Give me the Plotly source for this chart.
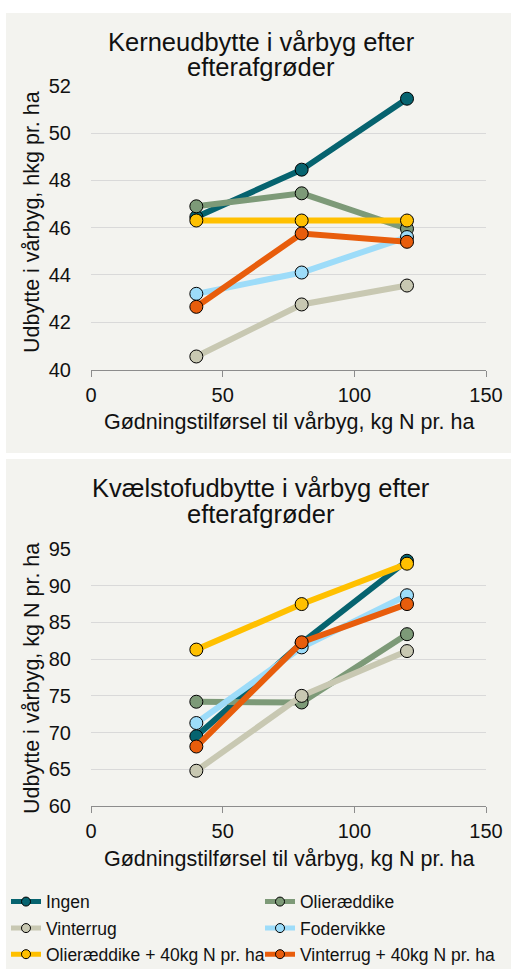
import plotly.graph_objects as go

# ---------------- data ----------------
n_levels = [40, 80, 120]
series_names = ["Ingen", "Olieræddike", "Vinterrug", "Fodervikke",
                "Olieræddike + 40kg N pr. ha", "Vinterrug + 40kg N pr. ha"]

kerne_ingen = [46.45, 48.45, 51.45]
kerne_olie = [46.9, 47.45, 45.95]
kerne_vinterrug = [40.55, 42.75, 43.55]
kerne_fodervikke = [43.2, 44.1, 45.6]
kerne_olie40 = [46.3, 46.3, 46.3]
kerne_vinterrug40 = [42.65, 45.75, 45.4]

kvael_ingen = [69.5, 82.2, 93.4]
kvael_olie = [74.2, 74.1, 83.4]
kvael_vinterrug = [64.8, 75.0, 81.1]
kvael_fodervikke = [71.3, 81.6, 88.7]
kvael_olie40 = [81.3, 87.5, 93.0]
kvael_vinterrug40 = [68.1, 82.3, 87.5]

x_ticks = [0, 50, 100, 150]
kerne_ticks = [40, 42, 44, 46, 48, 50, 52]
kvael_ticks = [60, 65, 70, 75, 80, 85, 90, 95]

title_top = ["Kerneudbytte i vårbyg efter", "efterafgrøder"]
title_bottom = ["Kvælstofudbytte i vårbyg efter", "efterafgrøder"]
ytitle_top = "Udbytte i vårbyg, hkg pr. ha"
ytitle_bottom = "Udbytte i vårbyg, kg N pr. ha"
xtitle = "Gødningstilførsel til vårbyg, kg N pr. ha"

colors = ["#06636F", "#7D9A78", "#C8C8B2", "#9DDCF9", "#FFC000", "#E85D0C"]

kerne = [kerne_ingen, kerne_olie, kerne_vinterrug, kerne_fodervikke, kerne_olie40, kerne_vinterrug40]
kvael = [kvael_ingen, kvael_olie, kvael_vinterrug, kvael_fodervikke, kvael_olie40, kvael_vinterrug40]

# ---------------- layout helpers ----------------
W, H = 511, 971
def px(x):
    return x / W
def py(y):
    return 1 - y / H

FONT = "Liberation Sans, Arial, sans-serif"
PANEL = "#F3F3EF"
GRID = "#D9D9D9"
AXIS = "#8C8C8C"
TXT = "#111111"

fig = go.Figure()

for i, name in enumerate(series_names):
    for ax, data in (("", kerne), ("2", kvael)):
        fig.add_trace(go.Scatter(
            x=n_levels, y=data[i], name=name, legendgroup=name, showlegend=False,
            mode="lines+markers", xaxis="x" + ax, yaxis="y" + ax,
            line=dict(color=colors[i], width=6),
            marker=dict(size=13, color=colors[i], line=dict(color="#000000", width=1)),
            hoverinfo="x+y+name",
        ))

# legend entries: 3 rows x 2 columns, one legend per entry
legend_ids = ["legend", "legend2", "legend3", "legend4", "legend5", "legend6"]
legend_pos = [(6, 901.7), (260, 901.7), (6, 928.2), (260, 928.2), (6, 954.3), (260, 954.3)]
for i, name in enumerate(series_names):
    fig.add_trace(go.Scatter(
        x=[None], y=[None], name=name, legendgroup=name, showlegend=True,
        legend=legend_ids[i], mode="lines+markers", xaxis="x", yaxis="y",
        line=dict(color=colors[i], width=5),
        marker=dict(size=9, color=colors[i], line=dict(color="#000000", width=1)),
        hoverinfo="skip",
    ))

def xaxis_cfg(y_anchor):
    return dict(domain=[px(91), px(486)], range=[0, 150], tickvals=x_ticks,
                ticks="outside", ticklen=6, tickcolor=AXIS, tickwidth=1.3,
                showline=True, linecolor=AXIS, linewidth=1.3, showgrid=False,
                zeroline=False, anchor=y_anchor, fixedrange=True, automargin=False,
                tickfont=dict(family=FONT, size=20, color=TXT), ticklabelstandoff=1)

def yaxis_cfg(x_anchor, top, bottom, rng, ticks):
    return dict(domain=[py(bottom), py(top)], range=rng, tickvals=ticks,
                showgrid=True, gridcolor=GRID, gridwidth=1.3, showline=False,
                zeroline=False, ticks="", anchor=x_anchor, fixedrange=True, automargin=False,
                tickfont=dict(family=FONT, size=20, color=TXT), ticklabelstandoff=19)

def legend_cfg(xl, yc):
    return dict(orientation="v", x=px(xl), xanchor="left", y=py(yc), yanchor="middle",
                bgcolor="rgba(0,0,0,0)", font=dict(family=FONT, size=17.5, color=TXT),
                itemwidth=30, traceorder="normal", itemclick=False, itemdoubleclick=False)

annotations = []
def add_text(text, x, y, size, angle=0):
    annotations.append(dict(text=text, x=px(x), y=py(y), xref="paper", yref="paper",
                            xanchor="center", yanchor="middle", showarrow=False,
                            textangle=angle, font=dict(family=FONT, size=size, color=TXT)))

add_text(title_top[0], 261, 42, 25.5)
add_text(title_top[1], 261, 67.5, 25.5)
add_text(title_bottom[0], 261, 488, 25.5)
add_text(title_bottom[1], 261, 513.5, 25.5)
add_text(ytitle_top, 32, 222, 21.5, -90)
add_text(ytitle_bottom, 32, 679, 21.5, -90)
add_text(xtitle, 289, 422, 21.5)
add_text(xtitle, 289, 858.5, 21.5)

shapes = [
    dict(type="rect", xref="paper", yref="paper", x0=px(6), x1=1, y0=py(453), y1=py(13),
         fillcolor=PANEL, line=dict(width=0), layer="below"),
    dict(type="rect", xref="paper", yref="paper", x0=px(6), x1=1, y0=py(969), y1=py(459),
         fillcolor=PANEL, line=dict(width=0), layer="below"),
]

layout = dict(
    width=W, height=H, autosize=False,
    margin=dict(l=0, r=0, t=0, b=0, autoexpand=False),
    paper_bgcolor="#FFFFFF", plot_bgcolor="rgba(0,0,0,0)",
    font=dict(family=FONT, color=TXT),
    xaxis=xaxis_cfg("y"),
    yaxis=yaxis_cfg("x", 85.7, 369.5, [40, 52], kerne_ticks),
    xaxis2=xaxis_cfg("y2"),
    yaxis2=yaxis_cfg("x2", 549, 806, [60, 95], kvael_ticks),
    annotations=annotations,
    shapes=shapes,
    showlegend=True,
    hovermode="closest",
)
for lid, (xl, yc) in zip(legend_ids, legend_pos):
    layout[lid] = legend_cfg(xl, yc)

fig.update_layout(**layout)

fig.write_html("out.html", config={"displayModeBar": False},
               post_script="document.body.style.margin='0';document.body.style.overflow='hidden';")
